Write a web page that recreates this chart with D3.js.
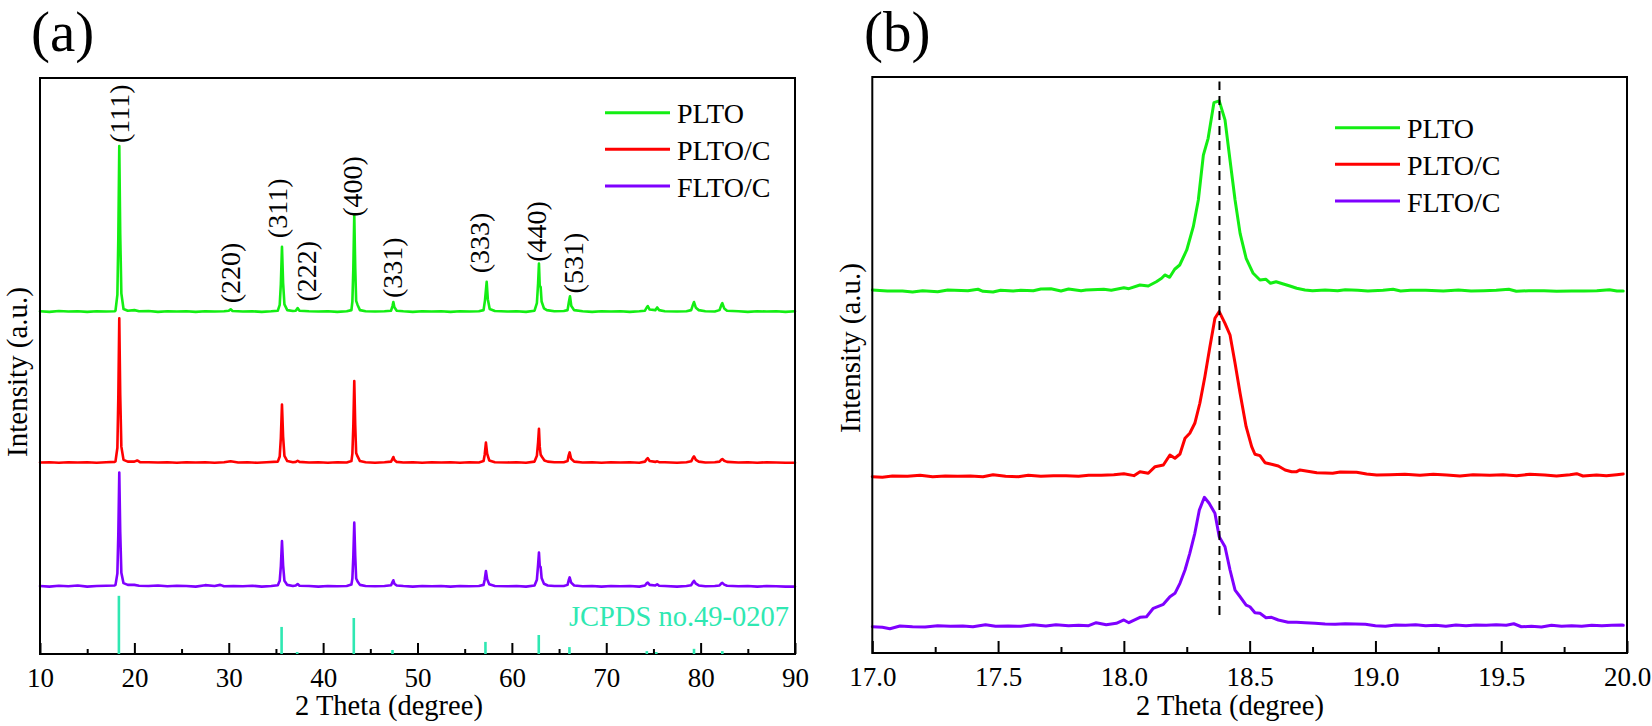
<!DOCTYPE html>
<html><head><meta charset="utf-8">
<script src="https://cdn.jsdelivr.net/npm/d3@7"></script>
<style>
body{margin:0;background:#fff}
svg{display:block}
</style>
</head><body>
<svg id="chart" width="1652" height="726"></svg>
<script>
// ---------------- DATA ----------------
const seriesNames = ["PLTO", "PLTO/C", "FLTO/C"];
const seriesColors = ["#13ee13", "#ff0000", "#7f00ff"];

// Panel (a): stacking offsets (a.u.) and raw patterns [2theta, intensity]
const offsetsA = [59.4, 33.2, 11.7];
const pltoA = [
[10,0.1],[11,0.0],[12,0.15],[13,0.05],[14,0.1],[15,0.0],[16,0.1],[17,0.05],[17.9,0.1],
[18.0,0.2],[18.2,3.0],[18.3,13.0],[18.4,28.8],[18.5,13.5],[18.62,3.2],[18.85,0.5],[19.3,0.2],
[20,0.3],[20.5,0.1],[21.5,0.15],[22.5,0.0],[23.5,0.1],[24.5,0.05],[25.5,0.1],[26.5,0.0],[27.5,0.1],[28.5,0.05],[29.5,0.1],
[30.0,0.2],[30.2,0.45],[30.4,0.15],[31.5,0.05],[32.5,0.1],[33.5,0.0],[34.5,0.1],[35.2,0.2],
[35.4,1.2],[35.52,4.8],[35.64,11.3],[35.76,5.0],[35.9,1.3],[36.2,0.3],[36.8,0.15],
[37.1,0.2],[37.3,0.65],[37.5,0.2],[38.5,0.1],[39.5,0.05],[40.5,0.1],[41.5,0.0],[42.5,0.1],[43.0,0.3],
[43.1,1.8],[43.2,7.5],[43.3,16.9],[43.4,7.8],[43.5,1.9],[43.65,1.2],[43.9,0.3],[44.5,0.1],[45.5,0.05],[46.5,0.1],[47.2,0.2],
[47.35,1.0],[47.44,1.7],[47.55,0.8],[47.8,0.2],[48.5,0.1],[49.5,0.0],[50.5,0.1],[51.5,0.05],[52.5,0.1],[53.5,0.0],[54.5,0.1],[55.5,0.05],[56.5,0.1],[57.0,0.3],
[57.15,2.0],[57.33,5.2],[57.45,2.2],[57.65,0.5],[58.2,0.15],[59.5,0.05],[60.5,0.1],[61.5,0.0],[62.4,0.2],
[62.65,1.5],[62.78,5.0],[62.87,8.4],[62.95,4.5],[63.05,4.3],[63.15,1.8],[63.4,0.6],[63.7,0.3],[64.5,0.1],[65.5,0.15],[65.9,0.3],
[66.05,1.8],[66.16,2.7],[66.3,1.0],[66.6,0.3],[67.5,0.1],[68.5,0.0],[69.5,0.1],[70.5,0.05],[71.5,0.1],[72.5,0.0],[73.5,0.1],[74.1,0.2],
[74.3,0.8],[74.4,1.0],[74.6,0.4],[75.2,0.3],[75.4,0.76],[75.6,0.3],[76.2,0.1],[77.5,0.05],[78.5,0.1],[79.0,0.3],
[79.2,1.3],[79.3,1.7],[79.5,0.7],[79.8,0.3],[80.5,0.1],[81.5,0.05],[82.0,0.3],[82.2,1.2],[82.3,1.5],[82.5,0.6],[82.8,0.2],[84,0.1],[85,0.0],[86,0.1],[87,0.05],[88,0.1],[89,0.0],[90,0.1]
];
const pltocA = [
[10,0.05],[11,0.1],[12,0.0],[13,0.1],[14,0.05],[15,0.1],[16,0.0],[17,0.1],[17.9,0.15],
[18.0,0.25],[18.2,2.6],[18.3,11.5],[18.4,25.1],[18.5,11.8],[18.62,2.8],[18.85,0.5],[19.3,0.2],
[20.0,0.2],[20.3,0.4],[20.6,0.1],[21.5,0.1],[22.5,0.05],[23.5,0.1],[24.5,0.0],[25.5,0.1],[26.5,0.05],[27.5,0.1],[28.5,0.0],[29.5,0.1],[30.2,0.25],[31,0.05],[32,0.1],[33,0.0],[34,0.1],[35.2,0.2],
[35.4,1.1],[35.52,4.3],[35.64,10.1],[35.76,4.5],[35.9,1.2],[36.2,0.3],[36.8,0.1],
[37.1,0.15],[37.3,0.35],[37.5,0.15],[38.5,0.05],[39.5,0.1],[40.5,0.0],[41.5,0.1],[42.5,0.05],[43.0,0.3],
[43.1,1.6],[43.2,6.4],[43.3,14.2],[43.4,6.6],[43.5,1.7],[43.65,1.1],[43.9,0.3],[44.5,0.1],[45.5,0.0],[46.5,0.1],[47.2,0.2],
[47.35,0.7],[47.44,1.0],[47.55,0.5],[47.8,0.15],[48.5,0.05],[49.5,0.1],[50.5,0.0],[51.5,0.1],[52.5,0.05],[53.5,0.1],[54.5,0.0],[55.5,0.1],[56.5,0.05],[57.0,0.3],
[57.12,1.4],[57.25,3.5],[57.38,1.6],[57.6,0.4],[58.2,0.1],[59.5,0.05],[60.5,0.1],[61.5,0.0],[62.4,0.2],
[62.65,1.2],[62.78,3.6],[62.87,5.9],[62.95,2.8],[63.05,1.4],[63.2,1.0],[63.45,0.4],[63.8,0.2],[64.5,0.1],[65.5,0.1],[65.9,0.3],
[66.02,1.3],[66.12,1.8],[66.28,0.7],[66.6,0.2],[67.5,0.05],[68.5,0.1],[69.5,0.0],[70.5,0.1],[71.5,0.05],[72.5,0.1],[73.5,0.0],[74.1,0.2],
[74.3,0.65],[74.4,0.8],[74.6,0.3],[75.2,0.15],[75.4,0.25],[75.6,0.1],[76.2,0.1],[77.5,0.0],[78.5,0.1],[79.0,0.25],
[79.2,0.9],[79.3,1.1],[79.5,0.5],[79.8,0.2],[80.5,0.05],[81.5,0.1],[82.0,0.2],[82.2,0.55],[82.3,0.65],[82.5,0.35],[82.8,0.15],[84,0.05],[85,0.1],[86,0.0],[87,0.1],[88,0.05],[89,0.0],[90,0.0]
];
const fltocA = [
[10,0.1],[11,0.0],[12,0.15],[13,0.05],[14,0.2],[15,0.0],[16,0.1],[17,0.15],[17.9,0.2],
[18.0,0.3],[18.2,2.3],[18.3,9.2],[18.4,19.8],[18.5,9.5],[18.62,2.4],[18.85,0.6],[19.3,0.3],
[20.0,0.3],[20.5,0.15],[21.5,0.1],[22.5,0.2],[23.5,0.05],[24.5,0.15],[25.5,0.1],[26.5,0.0],[27.5,0.25],[28.5,0.1],[29.1,0.3],[29.5,0.05],[30.5,0.1],[31.5,0.05],[32.5,0.15],[33.5,0.0],[34.5,0.1],[35.2,0.25],
[35.4,1.0],[35.52,3.5],[35.64,7.9],[35.76,3.7],[35.9,1.0],[36.2,0.3],[36.8,0.1],
[37.1,0.2],[37.3,0.45],[37.5,0.15],[38.5,0.1],[39.5,0.0],[40.5,0.1],[41.5,0.05],[42.5,0.1],[43.0,0.35],
[43.1,1.4],[43.2,5.2],[43.3,11.1],[43.4,5.4],[43.5,1.4],[43.65,0.9],[43.9,0.3],[44.5,0.1],[45.5,0.05],[46.5,0.1],[47.2,0.25],
[47.35,0.8],[47.44,1.1],[47.55,0.5],[47.8,0.2],[48.5,0.1],[49.5,0.0],[50.5,0.1],[51.5,0.05],[52.5,0.1],[53.5,0.0],[54.5,0.1],[55.5,0.05],[56.5,0.1],[57.0,0.3],
[57.12,1.2],[57.25,2.7],[57.38,1.3],[57.6,0.4],[58.2,0.1],[59.5,0.05],[60.5,0.1],[61.5,0.0],[62.4,0.2],
[62.65,1.2],[62.78,3.8],[62.87,5.9],[62.95,3.6],[63.05,3.4],[63.15,1.5],[63.4,0.5],[63.8,0.2],[64.5,0.1],[65.5,0.1],[65.9,0.3],
[66.02,1.1],[66.12,1.6],[66.28,0.7],[66.6,0.2],[67.5,0.05],[68.5,0.1],[69.5,0.0],[70.5,0.1],[71.5,0.05],[72.5,0.1],[73.5,0.0],[74.1,0.2],
[74.3,0.6],[74.4,0.7],[74.6,0.3],[75.2,0.2],[75.4,0.4],[75.6,0.15],[76.2,0.1],[77.5,0.0],[78.5,0.1],[79.0,0.25],
[79.2,0.8],[79.3,1.0],[79.5,0.5],[79.8,0.2],[80.5,0.05],[81.5,0.1],[82.0,0.2],[82.2,0.55],[82.3,0.65],[82.5,0.35],[82.8,0.15],[84,0.05],[85,0.1],[86,0.0],[87,0.1],[88,0.05],[89,0.0],[90,0.0]
];

// JCPDS no.49-0207 reference lines
const jcpdsPos = [18.36, 35.6, 37.25, 43.25, 47.35, 57.2, 62.85, 66.1, 74.3, 75.3, 79.3, 82.3];
const jcpdsInt = [10.1, 4.7, 0.35, 6.25, 0.7, 2.1, 3.3, 1.2, 0.5, 0.35, 0.9, 0.5];
const jcpdsLabel = "JCPDS no.49-0207";

// Miller indices annotations (label anchor in data units)
const hklText = ["(111)", "(220)", "(311)", "(222)", "(400)", "(331)", "(333)", "(440)", "(531)"];
const hklPos  = [18.76, 30.48, 35.43, 38.54, 43.38, 47.62, 56.91, 62.91, 66.87];
const hklAt   = [88.7, 60.9, 72.2, 61.2, 75.9, 61.8, 66.1, 68.1, 62.6];

const ticksA = [10, 20, 30, 40, 50, 60, 70, 80, 90];
const minorTicksA = [15, 25, 35, 45, 55, 65, 75, 85];

// Panel (b): zoom on (111) peak
const offsetsB = [62.85, 30.56, 4.51];
const pltoB = [
[17.00,0.17],[17.06,0.0],[17.12,0.0],[17.16,-0.17],[17.20,0.05],[17.26,-0.12],[17.30,0.17],[17.38,0.05],[17.42,0.3],[17.44,-0.05],
[17.48,-0.17],[17.51,0.12],[17.56,0.0],[17.59,0.12],[17.64,0.05],[17.67,0.35],[17.71,0.4],[17.75,0.0],[17.78,0.35],[17.83,0.05],
[17.85,0.17],[17.92,0.3],[17.95,0.12],[18.00,0.57],[18.02,0.4],[18.064,1.04],[18.097,0.87],[18.129,1.61],[18.150,2.2],[18.163,2.78],
[18.182,2.38],[18.202,3.77],[18.222,4.51],[18.250,7.12],[18.276,11.16],[18.296,15.8],[18.316,23.6],[18.335,26.5],[18.358,32.7],[18.379,33.0],
[18.402,29.7],[18.422,22.7],[18.442,15.8],[18.462,10.0],[18.486,5.68],[18.514,3.07],[18.541,1.91],[18.565,2.03],[18.583,1.34],[18.605,1.61],
[18.634,1.22],[18.660,0.87],[18.687,0.47],[18.72,0.17],[18.75,0.05],[18.80,0.17],[18.85,0.05],[18.88,0.23],[18.93,0.12],[18.97,0.0],
[19.03,0.12],[19.07,0.3],[19.10,0.0],[19.14,0.12],[19.20,0.12],[19.27,0.0],[19.33,0.17],[19.38,0.0],[19.43,0.05],[19.48,0.12],
[19.53,0.3],[19.56,-0.05],[19.61,0.05],[19.67,0.05],[19.72,-0.05],[19.78,0.0],[19.83,0.0],[19.88,0.05],[19.93,0.23],[19.96,0.0],[19.985,0.0]
];
const pltocB = [
[17.00,0.05],[17.04,-0.05],[17.08,0.17],[17.14,0.12],[17.19,0.3],[17.24,0.05],[17.29,0.17],[17.34,0.12],[17.39,0.17],[17.44,0.05],
[17.48,0.4],[17.53,0.12],[17.58,0.05],[17.62,0.3],[17.67,0.12],[17.72,0.23],[17.77,0.23],[17.82,0.12],[17.86,0.3],[17.91,0.3],
[17.96,0.4],[18.00,0.57],[18.04,0.23],[18.064,0.92],[18.097,0.64],[18.124,1.79],[18.157,2.08],[18.183,3.82],[18.203,3.25],[18.223,3.99],
[18.243,6.72],[18.262,7.59],[18.282,9.32],[18.302,12.8],[18.322,17.41],[18.342,22.6],[18.362,27.55],[18.379,28.7],[18.402,26.68],[18.422,24.65],
[18.442,19.74],[18.462,14.53],[18.486,8.73],[18.508,5.26],[18.521,3.94],[18.541,3.7],[18.561,2.48],[18.587,2.2],[18.614,1.91],[18.641,1.22],
[18.667,0.92],[18.687,0.92],[18.70,1.22],[18.767,0.75],[18.80,0.69],[18.83,0.64],[18.86,0.87],[18.925,0.82],[18.965,0.52],[19.005,0.35],
[19.058,0.4],[19.117,0.47],[19.177,0.3],[19.23,0.47],[19.283,0.35],[19.336,0.17],[19.388,0.4],[19.455,0.3],[19.507,0.4],[19.561,0.23],
[19.614,0.47],[19.673,0.35],[19.72,0.17],[19.773,0.4],[19.80,0.57],[19.825,0.17],[19.879,0.35],[19.918,0.23],[19.959,0.4],[19.985,0.52]
];
const fltocB = [
[17.00,0.05],[17.04,-0.05],[17.07,-0.3],[17.11,0.17],[17.16,0.05],[17.21,0.0],[17.26,0.23],[17.31,0.12],[17.36,0.17],[17.40,0.05],
[17.45,0.4],[17.49,0.12],[17.54,0.17],[17.59,0.12],[17.64,0.4],[17.69,0.17],[17.73,0.4],[17.78,0.23],[17.82,0.3],[17.86,0.23],
[17.89,0.75],[17.93,0.4],[17.97,0.64],[18.00,1.22],[18.02,0.75],[18.064,1.68],[18.09,1.79],[18.117,3.25],[18.157,3.94],[18.183,5.26],
[18.203,5.85],[18.223,7.59],[18.243,9.9],[18.262,12.8],[18.282,16.27],[18.30,20.31],[18.32,22.52],[18.339,21.48],[18.362,19.74],[18.379,15.68],
[18.402,13.94],[18.422,9.9],[18.442,6.42],[18.462,5.26],[18.486,3.82],[18.501,3.52],[18.521,2.48],[18.541,2.38],[18.565,1.61],[18.587,1.68],
[18.614,1.22],[18.653,0.82],[18.687,0.82],[18.72,0.75],[18.76,0.64],[18.80,0.52],[18.84,0.47],[18.88,0.57],[18.92,0.52],[18.96,0.47],
[19.00,0.23],[19.04,0.12],[19.08,0.35],[19.12,0.3],[19.16,0.4],[19.20,0.23],[19.24,0.3],[19.28,0.12],[19.32,0.35],[19.36,0.23],
[19.40,0.35],[19.44,0.3],[19.48,0.4],[19.52,0.3],[19.55,0.57],[19.58,0.05],[19.62,0.12],[19.66,0.0],[19.70,0.3],[19.74,0.12],
[19.78,0.23],[19.82,0.12],[19.86,0.3],[19.90,0.23],[19.94,0.3],[19.98,0.35],[19.985,0.3]
];
const refLinePos = 18.38;
const refLineSpan = [6.6, 99.2];

const ticksB = [17.0, 17.5, 18.0, 18.5, 19.0, 19.5, 20.0];
const minorTicksB = [17.25, 17.75, 18.25, 18.75, 19.25, 19.75];

const xTitle = "2 Theta (degree)";
const yTitle = "Intensity (a.u.)";

// ---------------- DRAWING ----------------
const FONT = "'Liberation Serif','Times New Roman',Times,serif";
const svg = d3.select("#chart").attr("font-family", FONT);
svg.append("rect").attr("width", 1652).attr("height", 726).attr("fill", "#fff");

function drawPanel(cfg) {
  const g = svg.append("g");
  const x = cfg.x, y = cfg.y;
  const [x0, x1] = x.range();
  const [yb, yt] = y.range();

  // series
  cfg.series.forEach((s, i) => {
    const line = d3.line().x(d => x(d[0])).y(d => y(d[1] + cfg.offsets[i])).curve(d3.curveLinear);
    g.append("path").datum(s).attr("d", line)
      .attr("fill", "none").attr("stroke", seriesColors[i])
      .attr("stroke-width", cfg.lw).attr("stroke-linejoin", "round").attr("stroke-linecap", "round");
  });

  // axes ticks (inward)
  const ax = g.append("g").attr("transform", `translate(0,${yb})`)
    .call(d3.axisBottom(x).tickValues(cfg.ticks).tickSize(-cfg.majorLen).tickPadding(13.5).tickFormat(cfg.fmt))
    .attr("font-family", FONT).attr("font-size", 27);
  ax.select(".domain").remove();
  ax.selectAll(".tick line").attr("stroke", "#000").attr("stroke-width", 2);
  ax.selectAll(".tick text").attr("fill", "#000");
  const axm = g.append("g").attr("transform", `translate(0,${yb})`)
    .call(d3.axisBottom(x).tickValues(cfg.minor).tickSize(-cfg.minorLen).tickFormat(""));
  axm.select(".domain").remove();
  axm.selectAll(".tick line").attr("stroke", "#000").attr("stroke-width", 2);

  // frame
  g.append("rect").attr("x", x0).attr("y", yt).attr("width", x1 - x0).attr("height", yb - yt)
    .attr("fill", "none").attr("stroke", "#000").attr("stroke-width", 2);

  // axis titles
  g.append("text").attr("x", cfg.xTitleX).attr("y", 715).attr("text-anchor", "middle")
    .attr("font-size", 28.5).text(xTitle);
  g.append("text").attr("transform", `translate(${cfg.yTitleX},${cfg.yTitleY}) rotate(-90)`)
    .attr("text-anchor", "middle").attr("font-size", 29).text(yTitle);

  // panel label
  g.append("text").attr("x", cfg.labelX).attr("y", 51).attr("font-size", 57).text(cfg.label);

  // legend
  seriesNames.forEach((n, i) => {
    const ly = cfg.legY + i * 36.6;
    g.append("line").attr("x1", cfg.legX).attr("x2", cfg.legX + 65).attr("y1", ly).attr("y2", ly)
      .attr("stroke", seriesColors[i]).attr("stroke-width", 3);
    g.append("text").attr("x", cfg.legX + 72).attr("y", ly + 10.6).attr("font-size", 28).text(n);
  });
  return g;
}

// Panel (a)
const xA = d3.scaleLinear().domain([10, 90]).range([40, 795]);
const yA = d3.scaleLinear().domain([0, 100]).range([654, 78]);
const gA = drawPanel({
  x: xA, y: yA, series: [pltoA, pltocA, fltocA], offsets: offsetsA, lw: 2.6,
  ticks: ticksA, minor: minorTicksA, majorLen: 11, minorLen: 5, fmt: d3.format("d"),
  xTitleX: 389, yTitleX: 27, yTitleY: 372, label: "(a)", labelX: 31, legX: 605, legY: 112.7
});
// JCPDS bars
gA.append("g").selectAll("line").data(jcpdsPos).join("line")
  .attr("x1", d => xA(d)).attr("x2", d => xA(d))
  .attr("y1", yA(0)).attr("y2", (d, i) => yA(jcpdsInt[i]))
  .attr("stroke", "#2fe8b2").attr("stroke-width", 2.6);
gA.append("text").attr("x", 789).attr("y", 626).attr("text-anchor", "end")
  .attr("font-size", 28.5).attr("fill", "#2fe8b2").text(jcpdsLabel);
// hkl labels
gA.append("g").selectAll("text").data(hklText).join("text")
  .attr("transform", (d, i) => `translate(${xA(hklPos[i]) + 6.6},${yA(hklAt[i])}) rotate(-90)`)
  .attr("font-size", 28).text(d => d);

// Panel (b)
const xB = d3.scaleLinear().domain([17, 20]).range([872.3, 1627]);
const yB = d3.scaleLinear().domain([0, 100]).range([653, 77]);
const gB = drawPanel({
  x: xB, y: yB, series: [pltoB, pltocB, fltocB], offsets: offsetsB, lw: 3,
  ticks: ticksB, minor: minorTicksB, majorLen: 12, minorLen: 6, fmt: d3.format(".1f"),
  xTitleX: 1230, yTitleX: 860, yTitleY: 348, label: "(b)", labelX: 864, legX: 1335, legY: 127.7
});
gB.append("line").attr("x1", xB(refLinePos)).attr("x2", xB(refLinePos))
  .attr("y1", yB(refLineSpan[0])).attr("y2", yB(refLineSpan[1]))
  .attr("stroke", "#000").attr("stroke-width", 2).attr("stroke-dasharray", "9,6");
</script>
</body></html>
